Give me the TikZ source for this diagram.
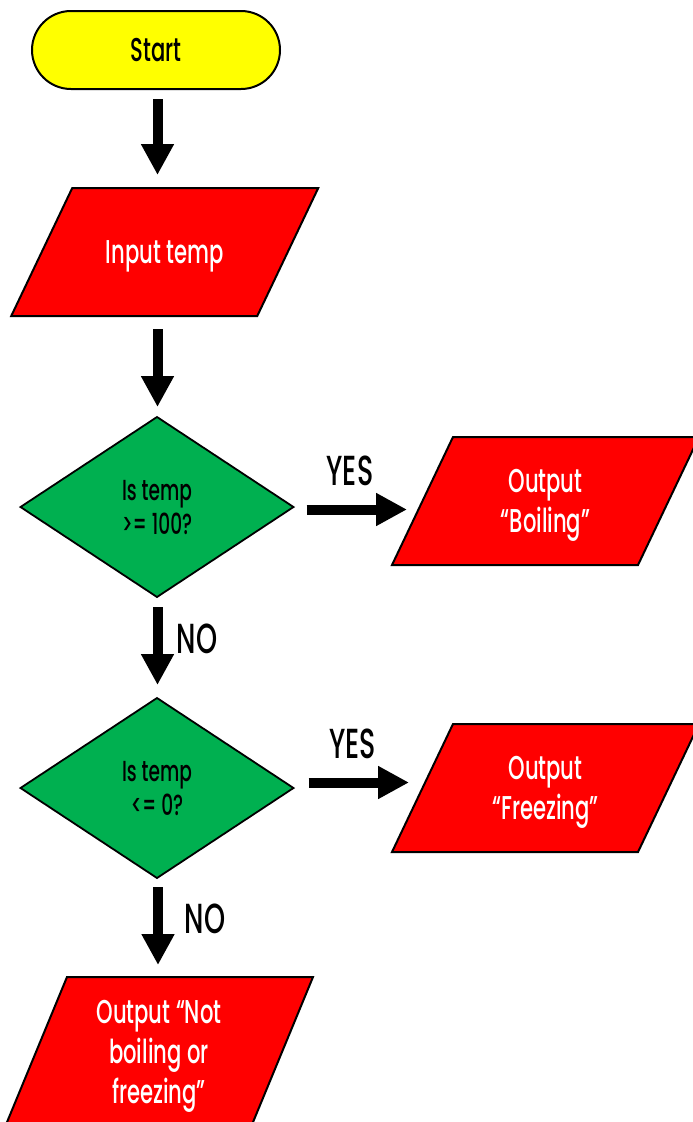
\documentclass[tikz,border=0pt]{standalone}
\usepackage{fontspec}
\setmainfont[FakeStretch=0.64]{Poppins Medium}
\usetikzlibrary{shapes.geometric,shapes.misc,arrows.meta,calc,backgrounds}
\definecolor{termyellow}{HTML}{FFFF00}
\definecolor{ioRed}{HTML}{FF0000}
\definecolor{decGreen}{HTML}{00B050}
\begin{document}
\begin{tikzpicture}[x=1pt,y=-1pt,
  every node/.style={inner sep=0pt, outer sep=0pt, text depth=0pt},
  terminal/.style={rounded rectangle, draw=black, line width=2pt, fill=termyellow,
    minimum width=248pt, minimum height=78pt, font=\fontsize{33}{40}\selectfont},
  iobox/.style={rectangle, text=white, minimum width=246pt, minimum height=128pt,
    align=center, font=\fontsize{33}{40}\selectfont},
  ioshape/.style={draw=black, line width=2pt, fill=ioRed, line join=miter},
  decision/.style={diamond, draw=black, line width=1.8pt, fill=decGreen,
    minimum width=273pt, minimum height=180pt, align=center,
    font=\fontsize{29}{34}\selectfont},
  flow/.style={line width=10pt, -{Triangle[width=31pt,length=31pt]}},
  branch/.style={font=\fontsize{42}{42}\selectfont, anchor=base}
]
\useasboundingbox (0,0) rectangle (693,1122);

% shapes
\node[terminal] (start) at (156,50) {Start};
\node[iobox] (input) at (164.75,252) {Input temp};
\node[decision] (d1) at (157,507) {Is temp\\>= 100?};
\node[iobox] (boil) at (545.5,501) {Output\\“Boiling”};
\node[decision] (d2) at (157,788) {Is temp\\<= 0?};
\node[iobox] (freeze) at (545.5,788) {Output\\“Freezing”};
\node[iobox, minimum height=150pt] (other) at (159,1052)
  {Output “Not\\boiling or\\freezing”};

% slanted input/output outlines behind their labels
\begin{scope}[on background layer]
  \foreach \n/\s in {input/61, boil/61, freeze/61, other/62}{
    \filldraw[ioshape] ($(\n.north west)+(\s/2,0)$) -- ($(\n.north east)+(\s/2,0)$)
      -- ($(\n.south east)-(\s/2,0)$) -- ($(\n.south west)-(\s/2,0)$) -- cycle;
  }
\end{scope}

% connectors
\draw[flow] ($(start.south)+(1.5,10)$) -- ($(start.south |- input.north)+(1.5,-13)$);
\draw[flow] ($(input.south -| start.south)+(1.5,13)$) -- ($(d1.north)+(0.5,-10)$);
\draw[flow] ($(d1.east)+(13,2.5)$) -- ($(d1.east -| boil.south west)+(-15.5,2.5)$);
\draw[flow] ($(d1.south)+(0.5,10)$) -- ($(d2.north)+(0.5,-13)$);
\draw[flow] ($(d2.east)+(15,-5.5)$) -- ($(d2.east -| freeze.south west)+(-13.5,-5.5)$);
\draw[flow] ($(d2.south)+(1,9)$) -- ($(d2.south |- other.north)+(1,-12)$);

% branch labels
\node[branch] (yes1) at (350,485) {YES};
\node[branch] (no1) at (197,653) {NO};
\node[branch] (yes2) at (352.5,758) {YES};
\node[branch] (no2) at (205,933) {NO};
\end{tikzpicture}
\end{document}
